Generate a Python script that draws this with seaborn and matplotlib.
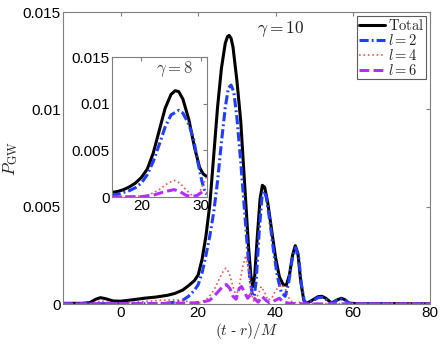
import matplotlib
matplotlib.use("Agg")
import matplotlib.pyplot as plt
import pandas as pd
import seaborn as sns

# gamma = 10 (main panel)
t_tot = [-15, -10, -8, -6.5, -5.3, -4, -2, 0, 3, 6, 9, 12, 14, 16, 17.5, 19, 20, 21, 22, 23, 24, 25,
         26, 27, 27.6, 28.0, 28.5, 29, 30, 31, 32, 33, 33.6, 34.1, 34.6, 35.3, 36, 36.6, 37.2, 38, 39,
         40, 41, 42, 42.8, 43.6, 44.4, 45.1, 45.8, 46.5, 47.3, 48, 49.5, 51, 52, 53, 54.5, 56, 57, 58,
         59, 62, 70, 80]
p_tot = [0.00004, 0.00004, 0.00008, 0.00025, 0.00033, 0.00028, 0.00016, 0.00015, 0.00022, 0.0003,
         0.00036, 0.00045, 0.00055, 0.00072, 0.00095, 0.0012, 0.0015, 0.0023, 0.0035, 0.0051, 0.0076,
         0.0101, 0.0121, 0.0134, 0.01375, 0.0138, 0.01365, 0.0132, 0.0115, 0.0094, 0.0062, 0.0030,
         0.0015, 0.0009, 0.0014, 0.0035, 0.0054, 0.0061, 0.0060, 0.0052, 0.0038, 0.0024, 0.0014,
         0.0010, 0.00097, 0.0015, 0.0025, 0.0030, 0.0026, 0.0012, 0.0002, 0.00003, 0.0002, 0.00038,
         0.0004, 0.0003, 0.00006, 0.00022, 0.0003, 0.00022, 0.00005, 0.00001, 0.00003, 0.00001]

t_l2 = [-15, 0, 10, 12, 14, 16, 17.5, 19, 20, 21, 22, 23, 24, 25, 26, 27, 27.8, 28.5, 29.2, 30, 31,
        31.9, 32.6, 33.3, 34, 34.5, 35, 35.8, 36.5, 37, 37.6, 38.5, 39.5, 40.5, 41.5, 42.5, 43.4,
        44.3, 45.2, 46, 46.7, 47.4, 48, 49.5, 51, 52, 53, 54.5, 56, 57, 58, 59, 62, 80]
p_l2 = [0.00002, 0.00002, 0.00002, 0.00005, 0.0001, 0.0002, 0.0004, 0.0007, 0.001, 0.0016, 0.0025,
        0.0035, 0.0047, 0.0063, 0.0083, 0.0101, 0.0111, 0.01125, 0.0109, 0.0096, 0.0073, 0.005,
        0.0032, 0.0014, 0.0005, 0.0004, 0.0012, 0.0038, 0.0055, 0.0058, 0.0055, 0.0043, 0.0027,
        0.0014, 0.0006, 0.0004, 0.0011, 0.0023, 0.0029, 0.0024, 0.0010, 0.0002, 0.00002, 0.00015,
        0.00033, 0.00035, 0.00025, 0.00004, 0.0002, 0.00027, 0.0002, 0.00004, 0.00001, 0.00001]

t_l4 = [-15, -8, -6, -5, -3.5, -1, 2, 5, 8, 11, 14, 16, 18, 19.5, 21, 22.5, 24, 25.5, 26.5, 27.2, 28,
        29, 29.8, 30.5, 31.5, 32.3, 33, 33.8, 34.5, 35.5, 36.3, 37.2, 38, 39, 40, 41.5, 42.5, 43.5,
        44.5, 46, 48, 55, 65, 70, 80]
p_l4 = [0.00002, 0.00003, 0.00012, 0.00016, 0.0001, 0.00005, 0.00007, 0.00012, 0.00016, 0.0002,
        0.00022, 0.00018, 0.0001, 0.00002, 0.0001, 0.0003, 0.0007, 0.0013, 0.0017, 0.00185, 0.0016,
        0.0009, 0.0004, 0.0008, 0.0019, 0.0025, 0.0018, 0.0005, 0.0001, 0.0005, 0.0009, 0.0006,
        0.0002, 0.0003, 0.0007, 0.0010, 0.0008, 0.0003, 0.00005, 0.0001, 0.00003, 0.00002, 0.00002,
        0.00005, 0.00002]

t_l6 = [-15, -8, -5, 0, 10, 18, 21, 23, 25, 26.5, 27.3, 28.2, 29, 29.8, 30.6, 31.2, 32, 32.8, 33.6,
        34.5, 35.5, 36.5, 37.5, 38.5, 40, 41, 42, 44, 50, 80]
p_l6 = [0.00001, 0.00001, 0.00003, 0.00002, 0.00003, 0.00005, 0.0001, 0.0002, 0.0006, 0.00095,
        0.001, 0.0008, 0.0004, 0.00025, 0.0008, 0.0009, 0.0006, 0.0003, 0.0005, 0.0003, 0.0001,
        0.0004, 0.0002, 0.00005, 0.0002, 0.0003, 0.0001, 0.00003, 0.00001, 0.00001]

# gamma = 8 (inset)
t8_tot = [15, 16, 17, 18, 19, 20, 21, 22, 23, 24, 25, 25.7, 26.3, 27, 28, 29, 29.8, 30.4, 31]
p8_tot = [0.0005, 0.0006, 0.0008, 0.0011, 0.0015, 0.0021, 0.003, 0.0047, 0.0071, 0.0095, 0.011,
          0.0114, 0.0113, 0.0105, 0.0083, 0.0052, 0.0032, 0.0025, 0.0022]
t8_l2 = [15, 16, 17, 18, 19, 20, 21, 22, 23, 24, 25, 26.3, 27, 28, 28.8, 29.5, 30.2, 30.7, 31]
p8_l2 = [0.0002, 0.0003, 0.0005, 0.0007, 0.001, 0.0015, 0.0024, 0.0038, 0.0056, 0.0075, 0.0088,
         0.0093, 0.009, 0.0078, 0.0062, 0.0038, 0.0017, 0.0006, 0.0003]
t8_l4 = [15, 18, 20, 21.5, 23, 24.5, 25.5, 26.5, 27.5, 28.5, 29.3, 30, 31]
p8_l4 = [0.00005, 0.0001, 0.0001, 0.0003, 0.0008, 0.0015, 0.0018, 0.0015, 0.0008, 0.0002, 0.0001,
         0.0008, 0.0022]
t8_l6 = [15, 20, 22, 24, 25.5, 26.5, 27.5, 28.5, 29.5, 30.3, 31]
p8_l6 = [0.00002, 0.00005, 0.0002, 0.0006, 0.0008, 0.0006, 0.0002, 0.00005, 0.0002, 0.0006, 0.0004]

labels = [r"$\mathrm{Total}$", r"$l=2$", r"$l=4$", r"$l=6$"]
colors = ["black", "#1f3dff", "#ff5050", "#b42cff"]
styles = ["-", (0, (3, 1, 0.6, 1)), ":", (0, (3.2, 1.4))]
widths = [2.2, 2.2, 1.2, 2.2]

sns.set_style("white")
plt.rcParams["mathtext.fontset"] = "cm"
plt.rcParams["font.family"] = ["Liberation Sans", "DejaVu Sans"]

fig = plt.figure(figsize=(4.43, 3.44), dpi=100)
ax = fig.add_axes([0.142, 0.116, 0.829, 0.849])
axin = fig.add_axes([0.252, 0.427, 0.2145, 0.407])


def draw(a, series):
    for (t, p), lab, c, ls, lw in zip(series, labels, colors, styles, widths):
        df = pd.DataFrame({"t": t, "p": p})
        sns.lineplot(data=df, x="t", y="p", ax=a, color=c, linestyle=ls, lw=lw, label=lab,
                     legend=False)


def style_axes(a):
    for s in a.spines.values():
        s.set_color("#7f7f7f")
        s.set_linewidth(0.8)
    a.tick_params(direction="in", top=True, right=True, length=3, color="#7f7f7f",
                  labelsize=11, pad=1.5, labelcolor="black")
    a.set_xlabel("")
    a.set_ylabel("")


draw(ax, [(t_tot, p_tot), (t_l2, p_l2), (t_l4, p_l4), (t_l6, p_l6)])
ax.set_xlim(-15, 80)
ax.set_ylim(0, 0.015)
ax.set_xticks([0, 20, 40, 60, 80])
ax.set_yticks([0, 0.005, 0.01, 0.015])
ax.set_yticklabels(["0", "0.005", "0.01", "0.015"])
style_axes(ax)
ax.set_xlabel(r"$(t$ - $r)/M$", fontsize=11)
ax.xaxis.set_label_coords(0.5, -0.058)
ax.set_ylabel(r"$P_{\rm GW}$", fontsize=12.5)
ax.yaxis.set_label_coords(-0.118, 0.5)
ax.text(35.3, 0.0141, r"$\gamma = 10$", fontsize=12.5, color="#222222", ha="left", va="center")
leg = ax.legend(loc="upper right", fontsize=10.5, frameon=True, fancybox=False, borderaxespad=0.3,
                handlelength=1.8, handletextpad=0.2, labelspacing=0.0, borderpad=0.1)
leg.get_frame().set_edgecolor("#333333")
leg.get_frame().set_linewidth(0.8)

draw(axin, [(t8_tot, p8_tot), (t8_l2, p8_l2), (t8_l4, p8_l4), (t8_l6, p8_l6)])
axin.set_xlim(15, 31)
axin.set_ylim(0, 0.015)
axin.set_xticks([20, 30])
axin.set_yticks([0, 0.005, 0.01, 0.015])
axin.set_yticklabels(["0", "0.005", "0.01", "0.015"])
style_axes(axin)
axin.text(22.4, 0.0137, r"$\gamma = 8$", fontsize=12, color="#444444", ha="left", va="center")

fig.savefig("out.png", dpi=100)
